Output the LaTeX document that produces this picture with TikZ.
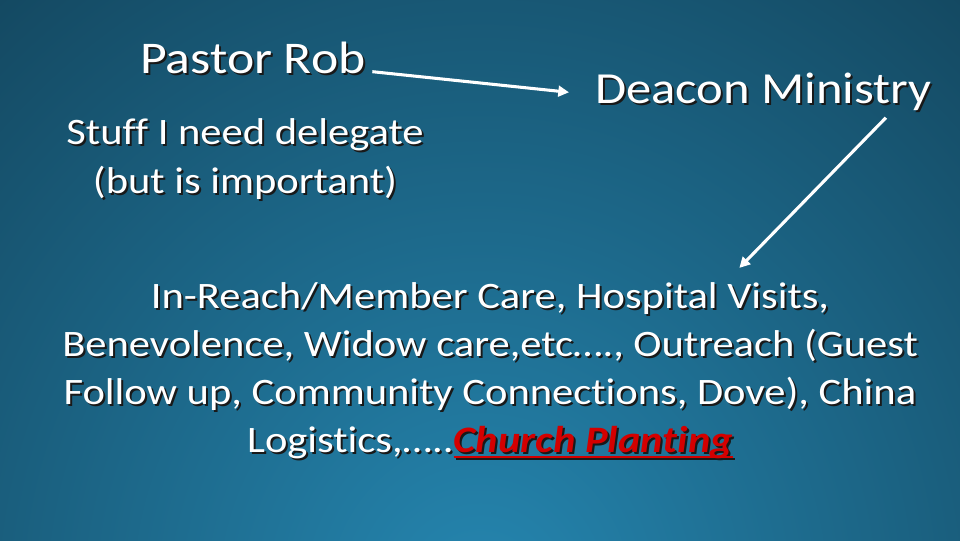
\documentclass[tikz,border=0pt]{standalone}
\usepackage{fontspec}
\setmainfont{Carlito}[FakeStretch=1.14, Ligatures=NoCommon]
\usetikzlibrary{arrows.meta}
\definecolor{bgouter}{HTML}{0E3447}
\definecolor{bginner}{HTML}{2586B0}
\definecolor{redtxt}{HTML}{D40000}
\newcommand{\hlcolor}{redtxt}
\newcommand{\sh}[1]{\leavevmode\rlap{\kern1.5pt\raisebox{-1.5pt}{\renewcommand{\hlcolor}{black!90}\color{black!90}#1}}#1}
\newcommand{\ulbar}[1]{\setbox0\hbox{#1}\rlap{\rule[-4pt]{\wd0}{1.5pt}}\box0}
\tikzset{
  label/.style={inner sep=0pt, align=center, text=white},
  bigfont/.style={font=\fontsize{34}{41}\selectfont},
  midfont/.style={font=\fontsize{28}{37}\selectfont},
  bodyfont/.style={font=\fontsize{28}{36}\selectfont},
  connector/.style={draw=white, line width=2.3pt, -{Triangle[length=8pt,width=8pt]}},
}
\begin{document}
\begin{tikzpicture}[x=0.75pt,y=-0.75pt]
\useasboundingbox (0,0) rectangle (960,540);
\fill[bgouter] (0,0) rectangle (960,540);
\begin{scope}
\clip (0,0) rectangle (960,540);
\shade[inner color=bginner, outer color=bgouter] (480,600) ellipse (1000 and 1060);
\end{scope}
% Pastor Rob
\node[label, bigfont, anchor=base west] (pastor) at (140,73) {\sh{Pastor Rob}};
% Deacon Ministry
\node[label, font=\fontsize{33.3}{40}\selectfont, anchor=base west] (deacon) at (595,103) {\sh{Deacon Ministry}};
% Stuff
\node[label, midfont] (stuff) at (245,160) {\sh{Stuff I need delegate}\\\sh{(but is important)}};
% Body
\node[label, bodyfont] (body) at (490,372) {\sh{In-Reach/Member Care, Hospital Visits,}\\
\sh{Benevolence, Widow care,etc…., Outreach (Guest}\\
\sh{Follow up, Community Connections, Dove), China}\\
\sh{Logistics,…..{\color{\hlcolor}\bfseries\itshape\ulbar{Church Planting}}}};
% connectors
\coordinate (a1s) at ([xshift=5pt,yshift=1pt]pastor.base east);
\coordinate (a1e) at ([xshift=-19.5pt]deacon.west);
\draw[connector] (a1s) -- (a1e);
\coordinate (a2s) at ([xshift=-34.5pt,yshift=-11pt]deacon.base east);
\coordinate (a2e) at ([xshift=187pt,yshift=11pt]body.north);
\draw[connector] (a2s) -- (a2e);
\end{tikzpicture}
\end{document}
